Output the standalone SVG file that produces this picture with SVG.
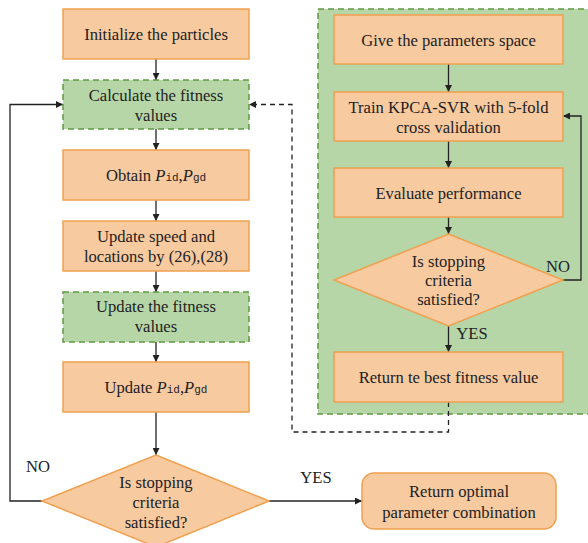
<svg xmlns="http://www.w3.org/2000/svg" width="588" height="543" viewBox="0 0 588 543">
<style>
.o{fill:#f8caa0;stroke:#f0a04e;stroke-width:1.5}
.g{fill:#b6d6a8;stroke:#5f9a44;stroke-width:1.5;stroke-dasharray:6 4}
.t{font-family:"Liberation Serif","Times New Roman",serif;font-size:16.6px;fill:#222;text-anchor:middle}
.m{font-family:"Liberation Mono","Courier New",monospace;font-size:11px;font-style:normal}
.l{fill:none;stroke:#222;stroke-width:1.3}
.d{fill:none;stroke:#222;stroke-width:1.3;stroke-dasharray:5 4}
</style>
<defs>
<marker id="a" viewBox="0 0 10 10" refX="10" refY="5" markerWidth="7" markerHeight="7" markerUnits="userSpaceOnUse" orient="auto"><path d="M0,0 L10,5 L0,10 z" fill="#222"/></marker>
</defs>
<rect width="588" height="543" fill="#fff"/>
<g id="panel"><rect class="g" x="318" y="9" width="280" height="405"/></g>
<g id="connectors">
<path class="l" d="M156,59 V80" marker-end="url(#a)"/>
<path class="l" d="M156,129 V150" marker-end="url(#a)"/>
<path class="l" d="M156,200 V221" marker-end="url(#a)"/>
<path class="l" d="M156,271 V292" marker-end="url(#a)"/>
<path class="l" d="M156,342 V362" marker-end="url(#a)"/>
<path class="l" d="M156,412 V455" marker-end="url(#a)"/>
<path class="l" d="M42,501 H10 V104.5 H63" marker-end="url(#a)"/>
<path class="l" d="M269,501 H362" marker-end="url(#a)"/>
<path class="l" d="M448.5,64 V92" marker-end="url(#a)"/>
<path class="l" d="M448.5,141 V168" marker-end="url(#a)"/>
<path class="l" d="M448.5,217 V234" marker-end="url(#a)"/>
<path class="l" d="M448.5,326 V352" marker-end="url(#a)"/>
<path class="l" d="M563,280 H581 V116 H563" marker-end="url(#a)"/>
<path class="d" d="M448.5,402 V432 H292 V104.5 H249" marker-end="url(#a)"/>
</g>
<g id="n1"><rect class="o" x="63" y="9" width="186" height="50"/><text class="t" x="156" y="40">Initialize the particles</text></g>
<g id="n2"><rect class="g" x="63" y="80" width="186" height="49"/><text class="t" x="156" y="101">Calculate the fitness</text><text class="t" x="156" y="121">values</text></g>
<g id="n3"><rect class="o" x="63" y="150" width="186" height="50"/><text class="t" x="156" y="181">Obtain <tspan font-style="italic">P</tspan><tspan class="m">id</tspan>,<tspan font-style="italic">P</tspan><tspan class="m">gd</tspan></text></g>
<g id="n4"><rect class="o" x="63" y="221" width="186" height="50"/><text class="t" x="156" y="242">Update speed and</text><text class="t" x="156" y="262">locations by (26),(28)</text></g>
<g id="n5"><rect class="g" x="63" y="292" width="186" height="50"/><text class="t" x="156" y="312">Update the fitness</text><text class="t" x="156" y="332">values</text></g>
<g id="n6"><rect class="o" x="63" y="362" width="186" height="50"/><text class="t" x="156" y="393">Update <tspan font-style="italic">P</tspan><tspan class="m">id</tspan>,<tspan font-style="italic">P</tspan><tspan class="m">gd</tspan></text></g>
<g id="n7"><polygon class="o" points="156,455 269,501 156,547 42,501"/><text class="t" x="156" y="488">Is stopping</text><text class="t" x="156" y="508">criteria</text><text class="t" x="156" y="528">satisfied?</text></g>
<g id="n8"><rect class="o" x="362" y="473" width="194" height="56" rx="12"/><text class="t" x="459" y="497">Return optimal</text><text class="t" x="459" y="518">parameter combination</text></g>
<g id="r1"><rect class="o" x="334" y="15" width="229" height="49"/><text class="t" x="448.5" y="46">Give the parameters space</text></g>
<g id="r2"><rect class="o" x="334" y="92" width="229" height="49"/><text class="t" x="448.5" y="113">Train KPCA-SVR with 5-fold</text><text class="t" x="448.5" y="133">cross validation</text></g>
<g id="r3"><rect class="o" x="334" y="168" width="229" height="49"/><text class="t" x="448.5" y="199">Evaluate performance</text></g>
<g id="r4"><polygon class="o" points="448.5,234 563,280 448.5,326 334,280"/><text class="t" x="448.5" y="267">Is stopping</text><text class="t" x="448.5" y="286">criteria</text><text class="t" x="448.5" y="305">satisfied?</text></g>
<g id="r5"><rect class="o" x="334" y="352" width="229" height="50"/><text class="t" x="448.5" y="383">Return te best fitness value</text></g>
<g id="labels">
<text class="t" x="38" y="472">NO</text>
<text class="t" x="316" y="483">YES</text>
<text class="t" x="558" y="272">NO</text>
<text class="t" x="472" y="339">YES</text>
</g>
</svg>
